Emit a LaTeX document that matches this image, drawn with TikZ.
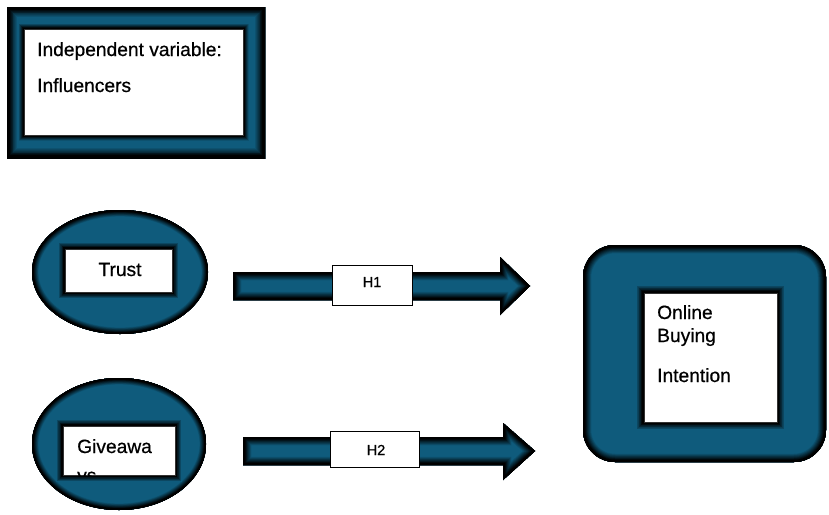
\documentclass[tikz,border=0pt]{standalone}
\usepackage{fontspec}
\setmainfont[FakeBold=0.6]{Liberation Sans}
\definecolor{tealc}{HTML}{0F5B7C}
\newcommand\myinglow[2]{%
  \begin{scope}
    \clip #1;
    \fill[tealc] #1;
    \foreach \gi in {0,...,11}{%
      \pgfmathsetmacro\gw{2*#2*(12-\gi)/12}%
      \pgfmathsetmacro\gm{max(0,100-\gi*11)}%
      \draw[line width=\gw pt, color=tealc!\gm!black] #1;
    }
  \end{scope}}
\newcommand\myoutglow[2]{%
  \foreach \gi in {0,...,11}{%
    \pgfmathsetmacro\gw{2*#2*(12-\gi)/12}%
    \pgfmathsetmacro\gm{max(0,100-\gi*11)}%
    \draw[line width=\gw pt, color=tealc!\gm!black] #1;
  }}
\tikzset{
  wbox/.style={draw=black!80, line width=0.6pt, fill=white, inner sep=0pt, outer sep=0pt},
  lbox/.style={draw=black, line width=0.8pt, fill=white, inner sep=0pt, outer sep=0pt},
  txt/.style={inner sep=0pt, font=\fontsize{19.2}{23}\selectfont},
  htxt/.style={inner sep=0pt, font=\fontsize{14.5}{17}\selectfont}
}
\begin{document}
\begin{tikzpicture}[x=1pt,y=-1pt]
\fill[white] (0,0) rectangle (829,514);
\useasboundingbox (0,0) rectangle (829,514);

% top box
\myinglow{(7,7) rectangle (265,158)}{11}
\myoutglow{(24,29) rectangle (243,135)}{6}
\node[wbox, minimum width=219pt, minimum height=106pt] (topbox) at (133.5,82) {};
\node[txt, anchor=base west] (t1) at (37,56) {Independent variable:};
\node[txt, anchor=base west] (t2) at (37,92) {Influencers};

% trust ellipse
\myinglow{(120,272) ellipse [x radius=88pt, y radius=62pt]}{7}
\myoutglow{(65,249) rectangle (172,292)}{7}
\node[wbox, minimum width=107pt, minimum height=43pt] (trust) at (118.5,270.5) {};
\node[txt, anchor=base] (trusttxt) at (120,276) {Trust};

% giveaways ellipse
\myinglow{(119,444) ellipse [x radius=87pt, y radius=66pt]}{7}
\myoutglow{(63,426) rectangle (175,475)}{7}
\node[wbox, minimum width=112pt, minimum height=49pt] (give) at (119,450.5) {};
\begin{scope}
  \clip (63,426) rectangle (175,475);
  \node[txt, anchor=base west] (givetxt) at (77,453) {Giveawa};
  \node[txt, anchor=base west] (givetxtb) at (77,482) {ys};
\end{scope}

% arrow H1
\myinglow{(233,272) -- (500,272) -- (500,257) -- (530,286) -- (500,315) -- (500,300) -- (233,300) -- cycle}{9}
\node[lbox, minimum width=80pt, minimum height=40pt] (h1) at (372,285) {};
\node[htxt, anchor=base] (h1txt) at (372,287) {H1};

% arrow H2
\myinglow{(243,437) -- (503,437) -- (503,423) -- (535,451) -- (503,480) -- (503,465) -- (243,465) -- cycle}{9}
\node[lbox, minimum width=89pt, minimum height=36pt] (h2) at (374.5,449) {};
\node[htxt, anchor=base] (h2txt) at (376,455) {H2};

% right box
\myinglow{[rounded corners=32pt] (583,245) rectangle (826,462)}{9}
\myoutglow{(644,293) rectangle (777,422)}{8}
\node[wbox, minimum width=133pt, minimum height=129pt] (obi) at (710.5,357.5) {};
\node[txt, anchor=base west] (o1) at (657,319) {Online};
\node[txt, anchor=base west] (o2) at (657,342) {Buying};
\node[txt, anchor=base west] (o3) at (657,382) {Intention};
\end{tikzpicture}
\end{document}
